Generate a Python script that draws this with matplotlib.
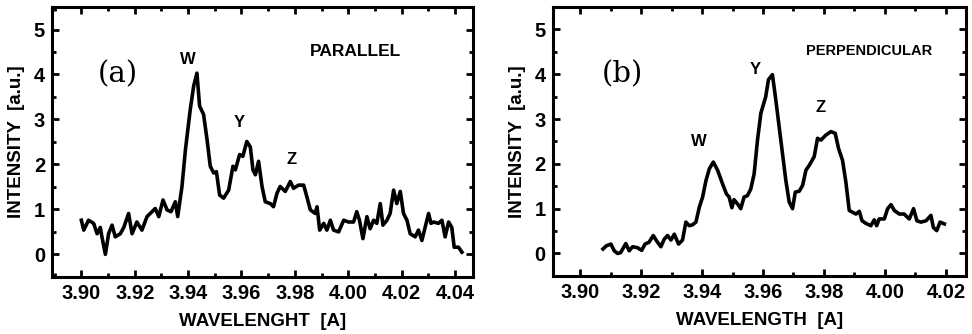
import numpy as np
import matplotlib.pyplot as plt
from matplotlib.ticker import MultipleLocator

plt.rcParams['font.family'] = ['Liberation Sans', 'DejaVu Sans']
plt.rcParams['font.weight'] = 'bold'

# panel (a): parallel
wl_par = [3.9000, 3.9009, 3.9027, 3.9046, 3.9059, 3.9071, 3.9077, 3.9090, 3.9102, 3.9115,
          3.9127, 3.9146, 3.9159, 3.9177, 3.9190, 3.9208, 3.9227, 3.9246, 3.9258, 3.9277,
          3.9290, 3.9306, 3.9321, 3.9336, 3.9352, 3.9361, 3.9377, 3.9390, 3.9408, 3.9421,
          3.9433, 3.9443, 3.9458, 3.9471, 3.9483, 3.9496, 3.9506, 3.9518, 3.9533, 3.9552,
          3.9568, 3.9577, 3.9593, 3.9605, 3.9620, 3.9633, 3.9643, 3.9652, 3.9664, 3.9677,
          3.9689, 3.9708, 3.9720, 3.9733, 3.9745, 3.9764, 3.9783, 3.9795, 3.9814, 3.9833,
          3.9845, 3.9858, 3.9876, 3.9883, 3.9893, 3.9908, 3.9920, 3.9933, 3.9945, 3.9964,
          3.9983, 4.0001, 4.0020, 4.0032, 4.0042, 4.0055, 4.0070, 4.0082, 4.0095, 4.0107,
          4.0120, 4.0130, 4.0145, 4.0157, 4.0170, 4.0182, 4.0195, 4.0207, 4.0220, 4.0232,
          4.0251, 4.0263, 4.0276, 4.0288, 4.0301, 4.0310, 4.0320, 4.0338, 4.0351, 4.0363,
          4.0376, 4.0388, 4.0397, 4.0413, 4.0426]
int_par = [0.76, 0.54, 0.76, 0.69, 0.46, 0.60, 0.39, 0.00, 0.46, 0.65,
           0.39, 0.46, 0.60, 0.91, 0.46, 0.72, 0.54, 0.84, 0.91, 1.02,
           0.84, 1.21, 0.99, 0.95, 1.17, 0.84, 1.51, 2.33, 3.22, 3.75,
           4.03, 3.30, 3.11, 2.55, 1.96, 1.81, 1.84, 1.32, 1.25, 1.43,
           1.96, 1.88, 2.22, 2.18, 2.51, 2.39, 1.88, 1.77, 2.07, 1.51,
           1.17, 1.13, 1.06, 1.36, 1.51, 1.40, 1.62, 1.47, 1.54, 1.54,
           1.28, 0.99, 0.91, 1.06, 0.54, 0.69, 0.54, 0.76, 0.54, 0.50,
           0.76, 0.72, 0.72, 0.95, 0.76, 0.35, 0.84, 0.57, 0.76, 0.69,
           1.13, 0.65, 0.76, 0.91, 1.43, 1.13, 1.40, 0.91, 0.76, 0.46,
           0.39, 0.54, 0.31, 0.60, 0.91, 0.69, 0.72, 0.69, 0.76, 0.39,
           0.72, 0.60, 0.16, 0.16, 0.05]

# panel (b): perpendicular
wl_perp = [3.9075, 3.9086, 3.9101, 3.9112, 3.9123, 3.9133, 3.9150, 3.9161, 3.9172, 3.9188,
           3.9202, 3.9213, 3.9226, 3.9240, 3.9251, 3.9265, 3.9276, 3.9287, 3.9298, 3.9309,
           3.9323, 3.9336, 3.9347, 3.9358, 3.9369, 3.9380, 3.9391, 3.9402, 3.9413, 3.9424,
           3.9437, 3.9451, 3.9467, 3.9480, 3.9489, 3.9498, 3.9505, 3.9516, 3.9527, 3.9538,
           3.9549, 3.9560, 3.9571, 3.9582, 3.9593, 3.9609, 3.9618, 3.9631, 3.9642, 3.9653,
           3.9664, 3.9675, 3.9686, 3.9697, 3.9706, 3.9719, 3.9730, 3.9741, 3.9752, 3.9768,
           3.9779, 3.9790, 3.9806, 3.9823, 3.9837, 3.9848, 3.9861, 3.9872, 3.9883, 3.9894,
           3.9905, 3.9916, 3.9925, 3.9938, 3.9954, 3.9965, 3.9973, 3.9981, 3.9998, 4.0009,
           4.0020, 4.0031, 4.0047, 4.0063, 4.0080, 4.0094, 4.0105, 4.0118, 4.0135, 4.0151,
           4.0159, 4.0170, 4.0181, 4.0195]
int_perp = [0.10, 0.17, 0.21, 0.06, 0.00, 0.02, 0.22, 0.06, 0.15, 0.13,
            0.07, 0.21, 0.25, 0.40, 0.28, 0.15, 0.32, 0.40, 0.30, 0.43,
            0.21, 0.30, 0.70, 0.62, 0.64, 0.70, 1.03, 1.26, 1.63, 1.89,
            2.04, 1.86, 1.56, 1.33, 1.26, 1.02, 1.20, 1.11, 1.00, 1.26,
            1.29, 1.44, 1.78, 2.53, 3.13, 3.50, 3.88, 3.99, 3.43, 2.83,
            2.23, 1.63, 1.15, 1.00, 1.37, 1.39, 1.52, 1.86, 1.97, 2.16,
            2.57, 2.53, 2.64, 2.72, 2.68, 2.34, 2.08, 1.59, 0.96, 0.92,
            0.88, 0.94, 0.73, 0.67, 0.62, 0.75, 0.62, 0.77, 0.77, 1.00,
            1.09, 0.96, 0.88, 0.88, 0.77, 1.00, 0.73, 0.70, 0.73, 0.85,
            0.58, 0.51, 0.70, 0.66]

fig = plt.figure(figsize=(9.72, 3.34), dpi=100)
ax1 = fig.add_axes([0.0535, 0.171, 0.433, 0.808])
ax2 = fig.add_axes([0.5686, 0.174, 0.4252, 0.805])


def style(ax, xlim, xticks, xlabel):
    ax.set_xlim(*xlim)
    ax.set_ylim(-0.5, 5.5)
    ax.set_xticks(xticks)
    ax.set_xticklabels(['%.2f' % t for t in xticks])
    ax.set_yticks([0, 1, 2, 3, 4, 5])
    ax.xaxis.set_minor_locator(MultipleLocator(0.01))
    ax.yaxis.set_minor_locator(MultipleLocator(0.5))
    ax.tick_params(which='both', direction='in', top=True, right=True,
                   labelsize=14.5, width=2, pad=5)
    ax.tick_params(which='major', length=5)
    ax.tick_params(which='minor', length=3)
    for s in ax.spines.values():
        s.set_linewidth(2.2)
    ax.set_xlabel(xlabel, fontsize=13.5, fontweight='bold', labelpad=7)
    ax.set_ylabel('INTENSITY  [a.u.]', fontsize=13.5, fontweight='bold', labelpad=6)


ax1.plot(wl_par, int_par, color='black', lw=2.6)
style(ax1, (3.889, 4.0467), np.arange(3.90, 4.041, 0.02), 'WAVELENGHT  [A]')
ax1.text(3.9135, 4.0, '(a)', family='DejaVu Serif', fontweight='normal',
         fontsize=21, ha='center', va='center')
ax1.text(3.940, 4.34, 'W', fontsize=12, ha='center', va='center')
ax1.text(3.9592, 2.93, 'Y', fontsize=12, ha='center', va='center')
ax1.text(3.9786, 2.12, 'Z', fontsize=12, ha='center', va='center')
ax1.text(4.0026, 4.5, 'PARALLEL', fontsize=12.5, ha='center', va='center')

ax2.plot(wl_perp, int_perp, color='black', lw=2.6)
style(ax2, (3.891, 4.0266), np.arange(3.90, 4.021, 0.02), 'WAVELENGTH  [A]')
ax2.text(3.914, 3.99, '(b)', family='DejaVu Serif', fontweight='normal',
         fontsize=21, ha='center', va='center')
ax2.text(3.939, 2.49, 'W', fontsize=12, ha='center', va='center')
ax2.text(3.9576, 4.10, 'Y', fontsize=12, ha='center', va='center')
ax2.text(3.979, 3.25, 'Z', fontsize=12, ha='center', va='center')
ax2.text(3.9947, 4.51, 'PERPENDICULAR', fontsize=10.5, ha='center', va='center')

fig.savefig('out.png', dpi=100)
